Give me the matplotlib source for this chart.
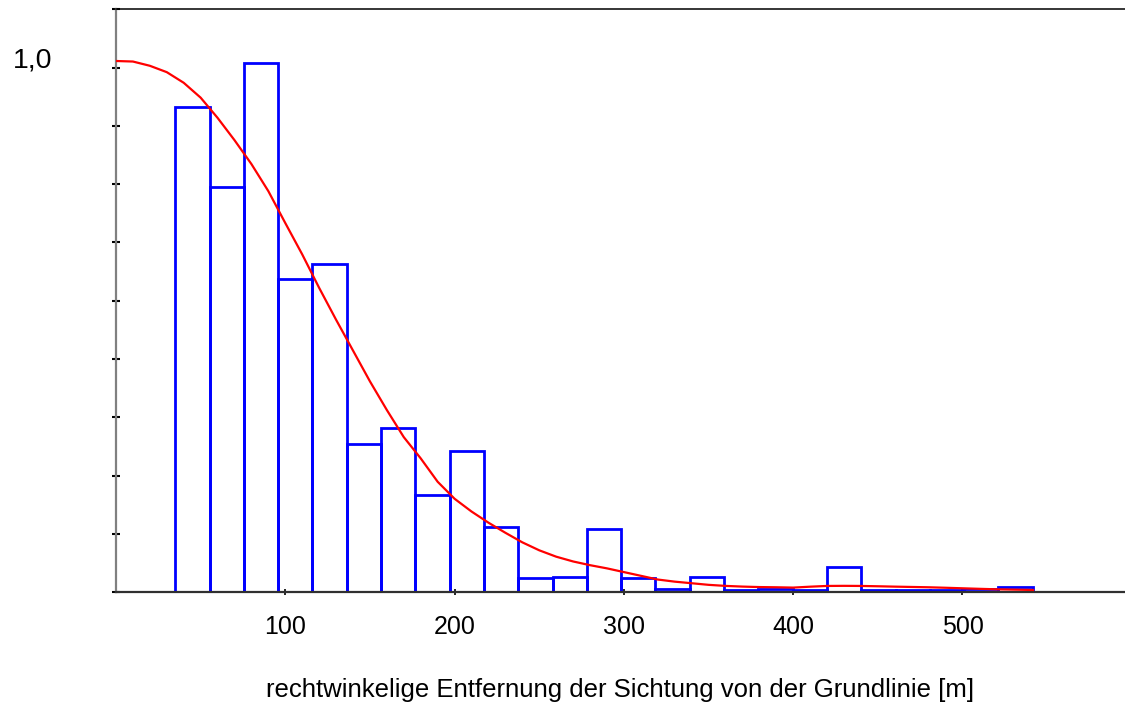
import numpy as np
import matplotlib
matplotlib.use('Agg')
import matplotlib.pyplot as plt

plt.rcParams['font.family'] = ['Liberation Sans', 'DejaVu Sans']

# Histogramm der Sichtungen (relative Haeufigkeit, 25 Klassen)
bin_start = 35.0
bin_width = 20.26
bar_heights = [0.914, 0.763, 0.996, 0.590, 0.618, 0.279, 0.310, 0.183, 0.265, 0.122,
               0.026, 0.029, 0.119, 0.026, 0.006, 0.029, 0.004, 0.006, 0.004, 0.048,
               0.004, 0.005, 0.004, 0.006, 0.009]

# angepasste Entdeckungsfunktion
curve_x = [0, 10, 20, 30, 40, 50, 60, 70, 80, 90, 100, 110, 120, 130, 140, 150, 160,
           170, 180, 190, 200, 210, 220, 230, 240, 250, 260, 270, 280, 290, 300, 310,
           320, 330, 340, 350, 360, 370, 380, 390, 400, 410, 420, 430, 440, 450, 460,
           470, 480, 490, 500, 510, 520, 530, 541.7]
curve_y = [1.000, 0.999, 0.991, 0.979, 0.959, 0.931, 0.893, 0.851, 0.806, 0.755, 0.695,
           0.636, 0.573, 0.513, 0.455, 0.397, 0.343, 0.292, 0.252, 0.208, 0.176, 0.152,
           0.131, 0.112, 0.094, 0.079, 0.067, 0.058, 0.051, 0.045, 0.038, 0.031, 0.024,
           0.020, 0.017, 0.014, 0.012, 0.0107, 0.0098, 0.0094, 0.0088, 0.0105, 0.0119,
           0.0121, 0.0119, 0.0113, 0.0106, 0.0100, 0.0094, 0.0085, 0.0075, 0.0065,
           0.0056, 0.0050, 0.0043]

x_ticks = [100, 200, 300, 400, 500]
x_label = 'rechtwinkelige Entfernung der Sichtung von der Grundlinie [m]'

fig = plt.figure(figsize=(11.25, 7.05), dpi=100)
ax = fig.add_axes([0.1031, 0.1599, 0.8969, 0.8269])

lefts = bin_start + bin_width * np.arange(len(bar_heights))
ax.bar(lefts, bar_heights, width=bin_width, align='edge', fill=False,
       edgecolor='#0000FF', linewidth=2.0, zorder=2)
ax.plot(curve_x, curve_y, color='#FF0000', linewidth=1.6, zorder=3)

ax.set_xlim(0, 596)
ax.set_ylim(0, 1.0973)

ax.spines['right'].set_visible(False)
ax.spines['left'].set_color('#808080')
ax.spines['left'].set_linewidth(1.6)
ax.spines['bottom'].set_color('#303030')
ax.spines['bottom'].set_linewidth(1.6)
ax.spines['top'].set_color('black')
ax.spines['top'].set_linewidth(1.1)

ax.set_xticks(x_ticks)
ax.set_xticklabels([str(v) for v in x_ticks])
ax.tick_params(axis='x', direction='inout', length=5, width=1.2, color='black',
               labelsize=18, pad=14)

ax.set_yticks(np.linspace(0, 1.0973, 11))
ax.set_yticklabels([])
ax.tick_params(axis='y', direction='inout', length=6, width=1.5, color='black')

ax.text(-0.0828, 1.0, '1,0', transform=ax.get_yaxis_transform(),
        ha='center', va='center', fontsize=20.5)

ax.set_xlabel(x_label, fontsize=18.5, labelpad=28)

fig.savefig('out.png', dpi=100)
